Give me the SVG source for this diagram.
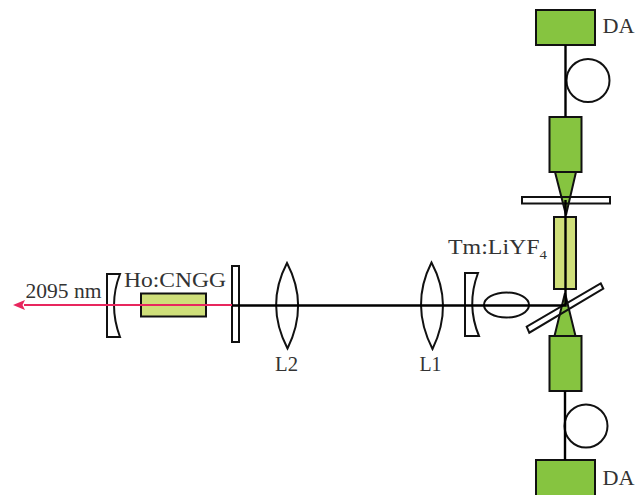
<svg xmlns="http://www.w3.org/2000/svg" width="644" height="495" viewBox="0 0 644 495">
<style>
.o{fill:#fff;stroke:#111;stroke-width:2}
.n{fill:none;stroke:#111;stroke-width:2}
.g{fill:#86c440;stroke:#111;stroke-width:2}
.c{fill:#cfdf7a;stroke:#111;stroke-width:2}
.b{stroke:#000;stroke-width:2.400;fill:none}
text{font-family:"Liberation Serif","Times New Roman",serif;font-size:21px;fill:#333}
</style>
<g id="da-top"><rect class="g" x="536" y="10" width="59" height="35"/><text x="602.500" y="33" textLength="32" lengthAdjust="spacingAndGlyphs">DA</text></g>
<g id="fiber-top"><circle class="n" cx="588" cy="80.500" r="21.500"/></g>
<g id="laser-top"><rect class="g" x="549.500" y="117" width="32" height="55"/><path class="g" stroke-width="1.500" d="M555 172H576L566 215Z"/></g>
<g id="plate-top"><rect class="n" x="522" y="197" width="88" height="6.500"/></g>
<g id="tm-crystal"><rect class="c" x="554" y="217" width="22" height="72"/><text x="448" y="253.500" textLength="99" lengthAdjust="spacingAndGlyphs">Tm:LiYF<tspan font-size="13" dy="5">4</tspan></text></g>
<g id="laser-bottom"><path class="g" stroke-width="1.500" d="M554.500 336H575.500L565 293Z"/><rect class="g" x="549.500" y="336" width="32" height="55"/></g>
<g id="fiber-bottom"><circle class="n" cx="586" cy="426" r="21.500"/></g>
<g id="da-bottom"><rect class="g" x="536" y="460" width="59" height="36"/><text x="602.500" y="485" textLength="32" lengthAdjust="spacingAndGlyphs">DA</text></g>
<g id="mirror-ho"><path class="o" d="M107 274H120Q108 305 120 337H107Z"/></g>
<g id="ho-crystal"><rect class="c" x="141" y="293.500" width="65" height="23"/><text x="124" y="287" textLength="102" lengthAdjust="spacingAndGlyphs">Ho:CNGG</text></g>
<g id="output-coupler"><rect class="o" x="232" y="266" width="7" height="76"/></g>
<g id="lens-l2"><path class="o" d="M287 263Q265 305 287.500 348.500Q309 305 287 263Z"/><text x="275" y="371" textLength="23" lengthAdjust="spacingAndGlyphs">L2</text></g>
<g id="lens-l1"><path class="o" d="M431.500 262.500Q410 305 432.500 349Q454 305 431.500 262.500Z"/><text x="419.500" y="371" textLength="22" lengthAdjust="spacingAndGlyphs">L1</text></g>
<g id="mirror-tm"><path class="o" d="M465 273H478Q466 305 479 336H465Z"/></g>
<g id="etalon"><ellipse class="n" cx="506.500" cy="305" rx="22.500" ry="12.500"/></g>
<g id="splitter"><path class="n" d="M600.700 283.300L603.300 288.700L529.300 332.700L526.700 326.700Z"/></g>
<g id="connectors">
<path class="b" d="M565.500 45V117"/>
<path class="b" d="M565 391V460"/>
<path class="b" d="M565.500 200V305.500H232"/>
<path d="M232 305H24" stroke="#e8265e" stroke-width="2" fill="none"/>
<path d="M13 305L25 300L22.500 305L25 310Z" fill="#e8265e"/>
</g>
<text x="25.500" y="298" textLength="76" lengthAdjust="spacingAndGlyphs">2095 nm</text>
</svg>
